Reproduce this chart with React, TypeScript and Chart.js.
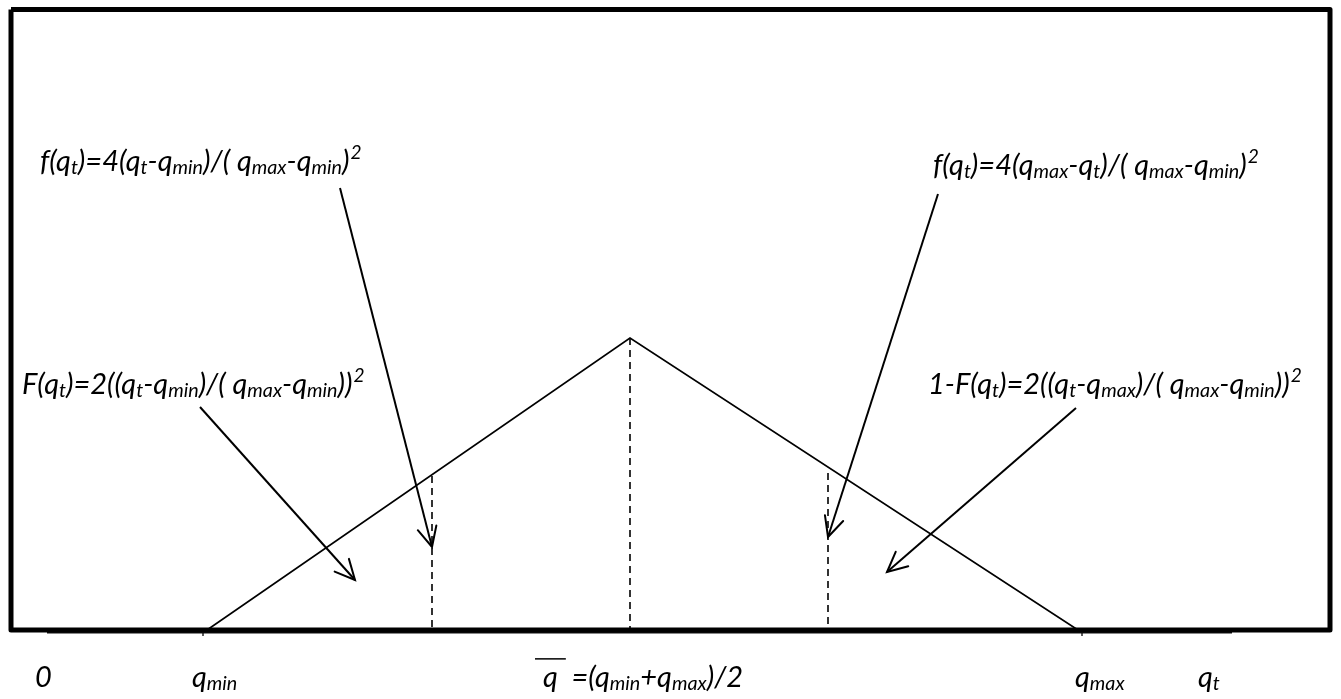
import React, { useEffect, useRef } from "react";
import { Chart, registerables } from "chart.js";

Chart.register(...registerables);

// ---- data (diagram units: x = q, y = density) ----
const X_MAX = 13.41;
const Y_MIN = -0.69;
const Y_MAX = 6.3;

const triangleX = [2.07, 6.3, 10.78];
const triangleY = [0, 2.92, 0];

const dashX = [4.32, 6.3, 8.28];
const dashTopY = [1.54, 2.92, 1.57];

const arrowFromX = [3.4, 2.0, 9.38, 10.76];
const arrowFromY = [4.42, 2.23, 4.36, 2.22];
const arrowToX = [4.32, 3.55, 8.28, 8.87];
const arrowToY = [0.83, 0.5, 0.93, 0.58];

const frameX = [0.11, 13.3, 13.3, 0.11, 0.11];
const frameY = [6.205, 6.205, 0, 0, 6.205];

const axisX = [0.47, 12.32];
const tickX = [2.03, 10.82];

type Seg = [string, "n" | "sub" | "sup" | "over"];

const formulaLabels: { x: number; y: number; segs: Seg[] }[] = [
  {
    x: 0.4,
    y: 4.59,
    segs: [["f(q", "n"], ["t", "sub"], [")=4(q", "n"], ["t", "sub"], ["-q", "n"], ["min", "sub"], [")/( q", "n"], ["max", "sub"], ["-q", "n"], ["min", "sub"], [")", "n"], ["2", "sup"]],
  },
  {
    x: 0.22,
    y: 2.36,
    segs: [["F(q", "n"], ["t", "sub"], [")=2((q", "n"], ["t", "sub"], ["-q", "n"], ["min", "sub"], [")/( q", "n"], ["max", "sub"], ["-q", "n"], ["min", "sub"], ["))", "n"], ["2", "sup"]],
  },
  {
    x: 9.33,
    y: 4.55,
    segs: [["f(q", "n"], ["t", "sub"], [")=4(q", "n"], ["max", "sub"], ["-q", "n"], ["t", "sub"], [")/( q", "n"], ["max", "sub"], ["-q", "n"], ["min", "sub"], [")", "n"], ["2", "sup"]],
  },
  {
    x: 9.28,
    y: 2.36,
    segs: [["1-F(q", "n"], ["t", "sub"], [")=2((q", "n"], ["t", "sub"], ["-q", "n"], ["max", "sub"], [")/( q", "n"], ["max", "sub"], ["-q", "n"], ["min", "sub"], ["))", "n"], ["2", "sup"]],
  },
];

const axisLabels: { x: number; y: number; segs: Seg[] }[] = [
  { x: 0.35, y: -0.57, segs: [["0", "n"]] },
  { x: 1.92, y: -0.57, segs: [["q", "n"], ["min", "sub"]] },
  { x: 5.43, y: -0.57, segs: [["q", "over"], ["  =(q", "n"], ["min", "sub"], ["+q", "n"], ["max", "sub"], [")/2", "n"]] },
  { x: 10.75, y: -0.57, segs: [["q", "n"], ["max", "sub"]] },
  { x: 11.98, y: -0.57, segs: [["q", "n"], ["t", "sub"]] },
];

const FONT_FAMILY = "Lato, 'Open Sans', sans-serif";
const FONT_SIZE = 29;

function drawRich(ctx: CanvasRenderingContext2D, segs: Seg[], x: number, y: number, size: number) {
  let cx = x;
  ctx.fillStyle = "#000";
  ctx.textBaseline = "alphabetic";
  ctx.textAlign = "left";
  for (const [t, s] of segs) {
    if (s === "n" || s === "over") {
      ctx.font = `italic ${size}px ${FONT_FAMILY}`;
      ctx.fillText(t, cx, y);
      const w = ctx.measureText(t).width;
      if (s === "over") {
        ctx.save();
        ctx.strokeStyle = "#000";
        ctx.lineWidth = 1.5;
        ctx.beginPath();
        ctx.moveTo(cx - 8, y - size * 0.97);
        ctx.lineTo(cx + w + 8, y - size * 0.97);
        ctx.stroke();
        ctx.restore();
      }
      cx += w;
    } else if (s === "sub") {
      ctx.font = `italic ${size * 0.68}px ${FONT_FAMILY}`;
      ctx.fillText(t, cx, y + size * 0.1);
      cx += ctx.measureText(t).width;
    } else {
      ctx.font = `italic ${size * 0.66}px ${FONT_FAMILY}`;
      ctx.fillText(t, cx + 1, y - size * 0.42);
      cx += ctx.measureText(t).width + 1;
    }
  }
}

const annotationPlugin = {
  id: "diagramAnnotations",
  afterDatasetsDraw(chart: any) {
    const ctx: CanvasRenderingContext2D = chart.ctx;
    const xs = chart.scales.x;
    const ys = chart.scales.y;
    // arrow heads
    chart.data.datasets.forEach((ds: any, i: number) => {
      if (!ds.isArrow) return;
      const pts = chart.getDatasetMeta(i).data;
      const a = pts[0];
      const b = pts[pts.length - 1];
      const ang = Math.atan2(b.y - a.y, b.x - a.x);
      const len = 22;
      const spread = 0.45;
      ctx.save();
      ctx.strokeStyle = "#000";
      ctx.lineWidth = 2;
      ctx.lineCap = "round";
      ctx.beginPath();
      ctx.moveTo(b.x - len * Math.cos(ang - spread), b.y - len * Math.sin(ang - spread));
      ctx.lineTo(b.x, b.y);
      ctx.lineTo(b.x - len * Math.cos(ang + spread), b.y - len * Math.sin(ang + spread));
      ctx.stroke();
      ctx.restore();
    });
    // labels
    ctx.save();
    for (const l of formulaLabels) {
      drawRich(ctx, l.segs, xs.getPixelForValue(l.x), ys.getPixelForValue(l.y), FONT_SIZE);
    }
    for (const l of axisLabels) {
      drawRich(ctx, l.segs, xs.getPixelForValue(l.x), ys.getPixelForValue(l.y), FONT_SIZE);
    }
    ctx.restore();
  },
};

export default function App() {
  const ref = useRef<HTMLCanvasElement | null>(null);
  useEffect(() => {
    if (!ref.current) return;
    const datasets: any[] = [];
    datasets.push({
      data: frameX.map((x, i) => ({ x, y: frameY[i] })),
      borderColor: "#000",
      borderWidth: 5,
      showLine: true,
      pointRadius: 0,
      borderJoinStyle: "round",
    });
    datasets.push({
      data: axisX.map((x) => ({ x, y: -0.02 })),
      borderColor: "#111",
      borderWidth: 3,
      showLine: true,
      pointRadius: 0,
    });
    tickX.forEach((x) => {
      datasets.push({
        data: [{ x, y: 0 }, { x, y: -0.06 }],
        borderColor: "#444",
        borderWidth: 1,
        showLine: true,
        pointRadius: 0,
      });
    });
    datasets.push({
      data: triangleX.map((x, i) => ({ x, y: triangleY[i] })),
      borderColor: "#000",
      borderWidth: 1.6,
      showLine: true,
      pointRadius: 0,
    });
    dashX.forEach((x, i) => {
      datasets.push({
        data: [{ x, y: dashTopY[i] }, { x, y: 0 }],
        borderColor: "#000",
        borderWidth: 1.6,
        borderDash: [7, 5],
        showLine: true,
        pointRadius: 0,
      });
    });
    arrowFromX.forEach((x, i) => {
      datasets.push({
        data: [{ x, y: arrowFromY[i] }, { x: arrowToX[i], y: arrowToY[i] }],
        borderColor: "#000",
        borderWidth: 2,
        showLine: true,
        pointRadius: 0,
        isArrow: true,
      });
    });

    const chart = new Chart(ref.current, {
      type: "scatter",
      data: { datasets },
      options: {
        animation: false,
        responsive: false,
        maintainAspectRatio: false,
        layout: { padding: 0 },
        scales: {
          x: { type: "linear", min: 0, max: X_MAX, display: false },
          y: { type: "linear", min: Y_MIN, max: Y_MAX, display: false },
        },
        plugins: { legend: { display: false }, tooltip: { enabled: false } },
        elements: { line: { tension: 0 } },
      },
      plugins: [annotationPlugin],
    });
    return () => chart.destroy();
  }, []);

  return (
    <div style={{ position: "fixed", left: 0, top: 0, width: 1341, height: 699, background: "#fff" }}>
      <canvas ref={ref} width={1341} height={699} style={{ display: "block", width: 1341, height: 699 }} />
    </div>
  );
}
